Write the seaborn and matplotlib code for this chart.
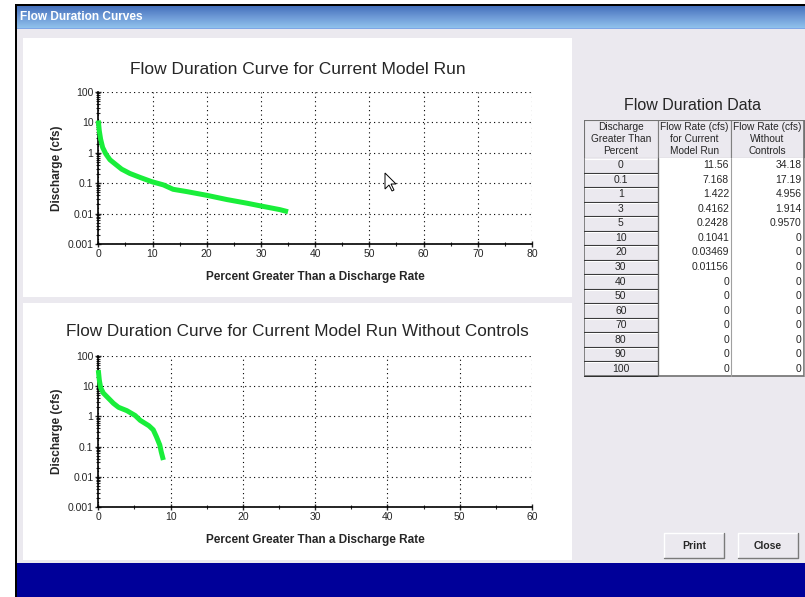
import numpy as np
import matplotlib
matplotlib.use("Agg")
import matplotlib.pyplot as plt
import seaborn as sns
from matplotlib.patches import Rectangle, Polygon
from matplotlib.colors import LinearSegmentedColormap
from matplotlib import font_manager

# Curve (percent exceeded, discharge in cfs)
current_pct = [0, 0.18, 0.43, 0.8, 1.4, 2.15, 3.1, 4.3, 5.8, 7.7, 9.8, 12, 13.8,
               16.3, 20, 23.7, 27.4, 30, 33.5, 35]
current_cfs = [11.56, 5.3, 2.8, 1.5, 0.91, 0.59, 0.43, 0.29, 0.21, 0.155, 0.113,
               0.088, 0.063, 0.053, 0.040, 0.029, 0.022, 0.0178, 0.0135, 0.0115]

nocontrol_pct = [0, 0.14, 0.33, 0.7, 1.4, 2.1, 2.8, 3.95, 5.1, 5.8, 7.0, 7.6, 8.05,
                 8.5, 8.7, 9.0]
nocontrol_cfs = [34.18, 16, 8.8, 5.9, 4.0, 2.7, 2.0, 1.55, 1.07, 0.74, 0.49, 0.36,
                 0.21, 0.114, 0.068, 0.036]

# Table on the right
table_pct = ["0", "0.1", "1", "3", "5", "10", "20", "30", "40", "50", "60", "70",
             "80", "90", "100"]
table_current = ["11.56", "7.168", "1.422", "0.4162", "0.2428", "0.1041", "0.03469",
                 "0.01156", "0", "0", "0", "0", "0", "0", "0"]
table_nocontrol = ["34.18", "17.19", "4.956", "1.914", "0.9570", "0", "0", "0", "0",
                   "0", "0", "0", "0", "0", "0"]
table_headers = ["Discharge\nGreater Than\nPercent",
                 "Flow Rate (cfs)\nfor Current\nModel Run",
                 "Flow Rate (cfs)\nWithout\nControls"]

y_ticks = [0.001, 0.01, 0.1, 1, 10, 100]
y_ticklabels = ["0.001", "0.01", "0.1", "1", "10", "100"]

W, H = 805, 597
GRAY = "#ebe9ef"
GREEN = "#19ee3a"

sns.set_style("white")
plt.rcParams["font.family"] = ["Liberation Sans", "DejaVu Sans"]
available = {f.name for f in font_manager.fontManager.ttflist}
NARROW = "Liberation Sans Narrow" if "Liberation Sans Narrow" in available else "Liberation Sans"


def frac(x0, y0, x1, y1):
    return [x0 / W, 1 - y1 / H, (x1 - x0) / W, (y1 - y0) / H]


fig = plt.figure(figsize=(W / 100, H / 100), dpi=100)
fig.patch.set_facecolor("white")

# window chrome
bg = fig.add_axes([0, 0, 1, 1], zorder=-10)
bg.set_xlim(0, W)
bg.set_ylim(H, 0)
bg.axis("off")
bg.add_patch(Rectangle((15, 4), W - 15, H - 4, fc="black", ec="none"))
bg.add_patch(Rectangle((17, 6), W - 17, H - 6, fc=GRAY, ec="none"))
grad = LinearSegmentedColormap.from_list("tb", ["#4672bd", "#6e9ad6", "#8fc1ec"])
bg.imshow(np.linspace(0, 1, 40).reshape(-1, 1), cmap=grad, aspect="auto",
          extent=(17, W, 28, 6), origin="upper", zorder=1)
bg.add_patch(Rectangle((17, 28), W - 17, 1.3, fc="#7ea6e6", ec="none", zorder=2))
bg.text(20, 17.5, "Flow Duration Curves", color="white", fontsize=8.6, fontweight="bold",
        va="center", ha="left", zorder=3)
bg.add_patch(Rectangle((23, 38), 549, 259, fc="white", ec="none"))
bg.add_patch(Rectangle((23, 303), 549, 257, fc="white", ec="none"))
bg.add_patch(Rectangle((17, 563), W - 17, H - 563, fc="#000099", ec="none"))

# chart titles are centred on the white panels
bg.text(297.5, 69, "Flow Duration Curve for Current Model Run", fontsize=12.5,
        ha="center", va="center")
bg.text(297.5, 332, "Flow Duration Curve for Current Model Run Without Controls",
        fontsize=12.3, ha="center", va="center")
bg.text(692, 105, "Flow Duration Data", fontsize=11.5, ha="center", va="center")

# buttons
for bx, label in [(664, "Print"), (738, "Close")]:
    bg.add_patch(Rectangle((bx, 533), 60, 25, fc=GRAY, ec="none"))
    bg.plot([bx, bx, bx + 60], [558, 533, 533], color="white", lw=1)
    bg.plot([bx, bx + 60, bx + 60], [558, 558, 533], color="#7a7a7a", lw=1)
    bg.text(bx + 30, 546, label, fontsize=7.5, fontweight="bold", ha="center",
            va="center")


def draw_chart(rect, pct, cfs, xmax):
    ax = fig.add_axes(frac(*rect))
    sns.lineplot(x=pct, y=cfs, ax=ax, color=GREEN, lw=3.6, sort=False,
                 estimator=None)
    line = ax.lines[-1]
    line.set_clip_on(False)
    line.set_zorder(3)
    line.set_solid_capstyle("butt")
    ax.set_yscale("log")
    ax.set_ylim(0.001, 100)
    ax.set_xlim(0, xmax)
    ax.set_xticks(range(0, xmax + 1, 10))
    ax.set_xticks(range(5, xmax, 10), minor=True)
    ax.set_yticks(y_ticks)
    ax.set_yticklabels(y_ticklabels)
    ax.yaxis.set_minor_locator(matplotlib.ticker.LogLocator(base=10, subs=np.arange(2, 10)))
    ax.yaxis.set_minor_formatter(matplotlib.ticker.NullFormatter())
    ax.grid(which="major", color="black", linestyle=(0, (1, 3)), lw=0.8)
    for s in ["top", "right"]:
        ax.spines[s].set_visible(False)
    for s in ["left", "bottom"]:
        ax.spines[s].set_color("black")
        ax.spines[s].set_linewidth(1.2)
    ax.tick_params(which="major", direction="inout", length=5, width=1,
                   labelsize=7.5, pad=1, left=True, bottom=True)
    ax.tick_params(which="minor", direction="inout", length=3, width=0.8,
                   left=True, bottom=True)
    for lab in ax.get_xticklabels() + ax.get_yticklabels():
        lab.set_fontfamily(NARROW)
    ax.set_xlabel("Percent Greater Than a Discharge Rate", fontsize=8.5,
                  fontweight="bold", labelpad=9)
    ax.set_ylabel("Discharge (cfs)", fontsize=8.5, fontweight="bold", labelpad=3)
    ax.yaxis.set_label_coords(-35 / 434, 0.5)
    return ax


draw_chart((98.3, 92, 532, 244), current_pct, current_cfs, 80)
draw_chart((98.3, 356, 532, 507), nocontrol_pct, nocontrol_cfs, 60)

# data table
tab = fig.add_axes(frac(584, 120, 805, 377))
tab.set_xlim(584, 805)
tab.set_ylim(377, 120)
tab.axis("off")
cols = [584, 657.5, 731, 803.5]
head_top, head_bot = 120, 158
pitch = (376 - head_bot) / len(table_pct)

for i, txt in enumerate(table_headers):
    tab.add_patch(Rectangle((cols[i], head_top), cols[i + 1] - cols[i],
                            head_bot - head_top, fc=GRAY, ec="#808080", lw=0.8))
    tab.text((cols[i] + cols[i + 1]) / 2, (head_top + head_bot) / 2, txt,
             fontsize=7.3, family=NARROW, ha="center", va="center", linespacing=1.3)

for r, (p, c1, c2) in enumerate(zip(table_pct, table_current, table_nocontrol)):
    y0 = head_bot + r * pitch
    yc = y0 + pitch / 2
    tab.add_patch(Rectangle((cols[0], y0), cols[1] - cols[0], pitch, fc=GRAY,
                            ec="none"))
    tab.plot([cols[0], cols[1]], [y0 + pitch, y0 + pitch], color="#303030", lw=0.8)
    tab.plot([cols[0] + 1, cols[1] - 1], [y0 + 1, y0 + 1], color="white", lw=0.8)
    tab.add_patch(Rectangle((cols[1], y0), cols[3] - cols[1], pitch, fc="white",
                            ec="none"))
    tab.text((cols[0] + cols[1]) / 2, yc, p, fontsize=7.5, family=NARROW,
             ha="center", va="center")
    tab.text(cols[2] - 2, yc, c1, fontsize=7.5, family=NARROW, ha="right", va="center")
    tab.text(cols[3] - 2, yc, c2, fontsize=7.5, family=NARROW, ha="right", va="center")

for x in cols[1:]:
    tab.plot([x, x], [head_bot, 376], color="#a0a0a0", lw=0.8)
tab.plot([cols[1], cols[1]], [head_bot, 376], color="#606060", lw=0.9)
tab.add_patch(Rectangle((cols[0], head_top), cols[3] - cols[0], 376 - head_top,
                        fc="none", ec="#707070", lw=1.2))

# mouse pointer left in the screenshot, drawn on top of everything
top = fig.add_axes([0, 0, 1, 1], zorder=50)
top.set_xlim(0, W)
top.set_ylim(H, 0)
top.axis("off")
tip = np.array([385, 173])
arrow = np.array([[0, 0], [0, 16], [4, 12], [7, 18], [9, 17], [6, 11], [11, 11]]) + tip
top.add_patch(Polygon(arrow, closed=True, fc="white", ec="black", lw=0.7))

fig.savefig("out.png", dpi=100)
